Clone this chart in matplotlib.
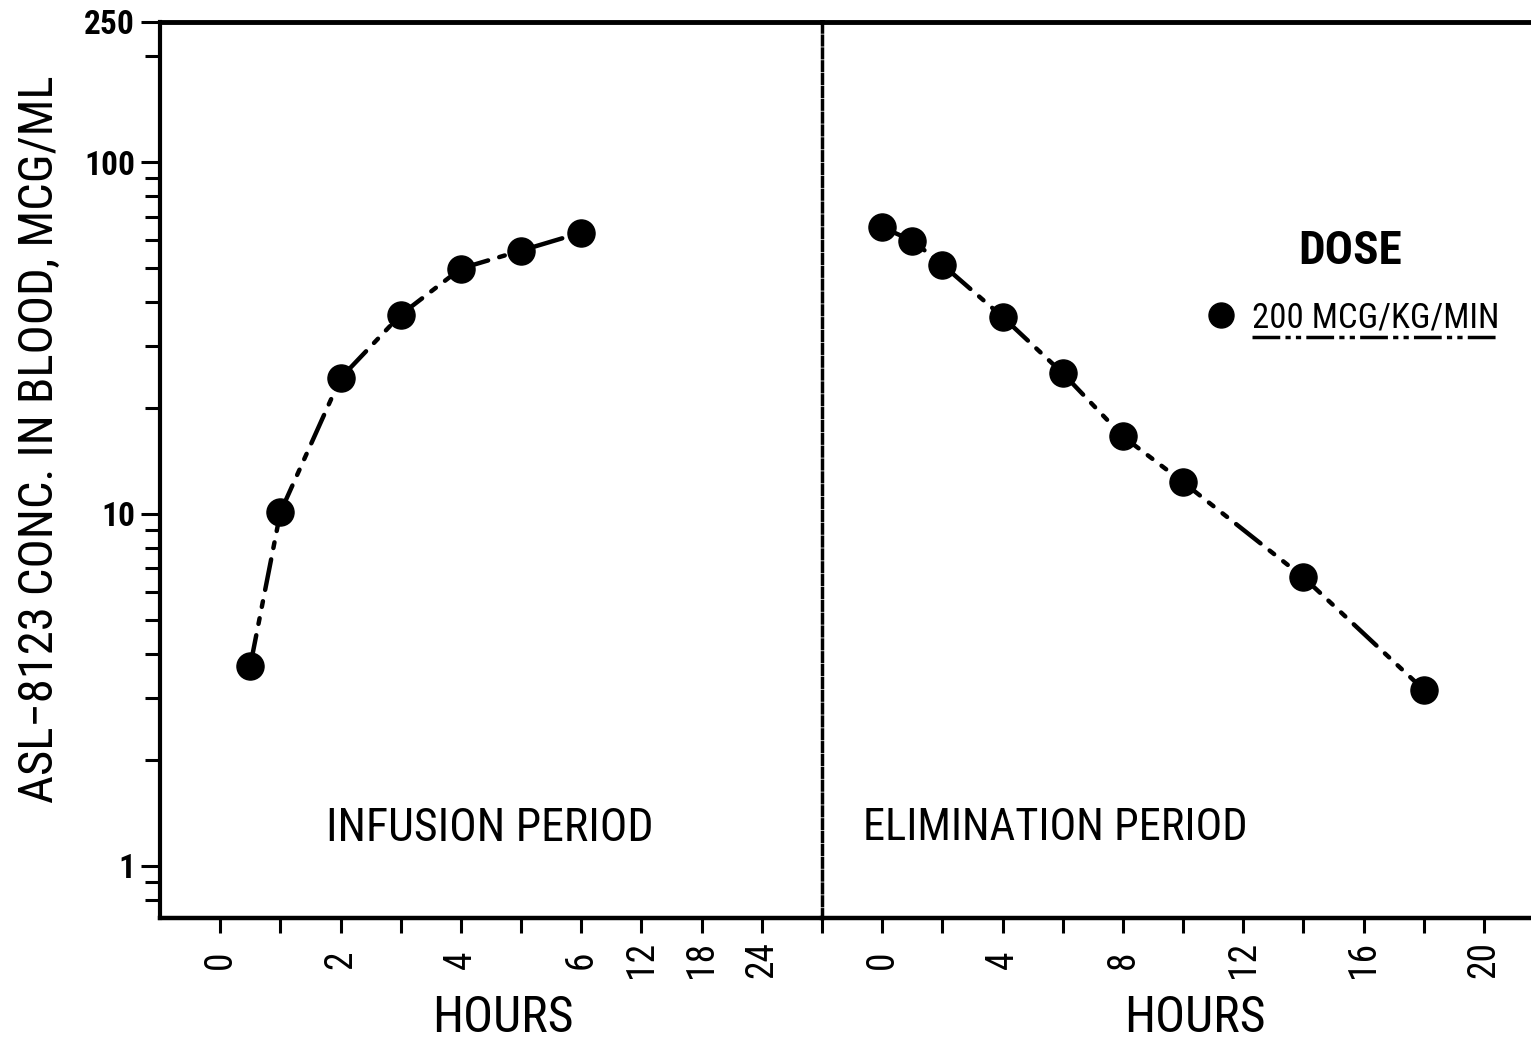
import numpy as np
import matplotlib
matplotlib.use('Agg')
import matplotlib.pyplot as plt
from matplotlib.ticker import FixedLocator, LogLocator, NullFormatter
from matplotlib.lines import Line2D
from matplotlib import font_manager

# pick a narrow sans if there is one
numele = set(f.name for f in font_manager.fontManager.ttflist)
familii = [f for f in ['Roboto Condensed', 'DejaVu Sans Condensed',
                       'Liberation Sans Narrow', 'Liberation Sans'] if f in numele]
plt.rcParams['font.family'] = familii + ['DejaVu Sans']

# infusion period (hours, mcg/ml)
ore_infuzie = [0.5, 1, 2, 3, 4, 5, 6]
conc_infuzie = [3.7, 10.1, 24.3, 36.8, 49.8, 56.0, 63.0]

# elimination period (hours after stop, mcg/ml)
ore_eliminare = [0, 1, 2, 4, 6, 8, 10, 14, 18]
conc_eliminare = [65.2, 59.8, 51.1, 36.3, 25.1, 16.6, 12.3, 6.6, 3.16]

# left x axis: 0..6 h every hour, then 12, 18, 24 compressed
ore_ticks_st = [0, 1, 2, 3, 4, 5, 6, 12, 18, 24]
etichete_st = ['0', '', '2', '', '4', '', '6', '12', '18', '24']
# right x axis
ore_ticks_dr = [-2, 0, 2, 4, 6, 8, 10, 12, 14, 16, 18, 20]
etichete_dr = ['', '0', '', '4', '', '8', '', '12', '', '16', '', '20']

y_ticks = [1, 10, 100, 250]
y_etichete = ['1', '10', '100', '250']

W, H = 1531, 1042
fig = plt.figure(figsize=(W / 100, H / 100), dpi=100)
ax1 = fig.add_axes([160 / W, 124 / H, 662 / W, 896 / H])
ax2 = fig.add_axes([822 / W, 124 / H, 709 / W, 896 / H], sharey=ax1)

pozitii_st = list(range(len(ore_ticks_st)))
x_inf = np.interp(ore_infuzie, ore_ticks_st, pozitii_st)

stil = (0, (7, 2.6, 1.3, 2.6, 1.3, 2.6))
ax1.plot(x_inf, conc_infuzie, color='black', lw=3.2, ls=stil,
         dash_capstyle='round', marker='o', ms=19.5, clip_on=False)
ax2.plot(ore_eliminare, conc_eliminare, color='black', lw=3.2, ls=stil,
         dash_capstyle='round', marker='o', ms=19.5, clip_on=False)

ax1.set_yscale('log')
ax1.set_ylim(0.71, 250)
ax1.set_xlim(-1, 10)
ax2.set_xlim(-2, 21.56)

ax1.yaxis.set_major_locator(FixedLocator(y_ticks))
ax1.set_yticklabels(y_etichete)
ax1.yaxis.set_minor_locator(LogLocator(base=10, subs=np.arange(2, 10)))
ax1.yaxis.set_minor_formatter(NullFormatter())
ax1.tick_params(axis='y', which='major', length=14, width=2.2, pad=4,
                labelsize=24)
ax1.tick_params(axis='y', which='minor', length=11, width=2.2)
for t in ax1.get_yticklabels():
    t.set_fontweight('bold')

ax1.set_xticks(pozitii_st)
ax1.set_xticklabels(etichete_st, rotation=90, va='center', ha='center')
ax1.tick_params(axis='x', length=11, width=2.2, pad=19, labelsize=27)

ax2.set_xticks(ore_ticks_dr)
ax2.set_xticklabels(etichete_dr, rotation=90, va='center', ha='center')
ax2.tick_params(axis='x', length=11, width=2.2, pad=19, labelsize=27)
ax2.tick_params(axis='y', which='both', left=False, labelleft=False)

for ax in (ax1, ax2):
    ax.spines['right'].set_visible(False)
    ax.spines['top'].set_linewidth(3.5)
    ax.spines['bottom'].set_linewidth(3.2)
ax1.spines['left'].set_linewidth(3)
ax2.spines['left'].set_linewidth(2.5)
ax2.spines['left'].set_linestyle((0, (2.5, 1.2)))

ax1.text(0.498, 0.10, 'INFUSION PERIOD', transform=ax1.transAxes,
         ha='center', va='center', fontsize=33)
ax2.text(0.329, 0.10, 'ELIMINATION PERIOD', transform=ax2.transAxes,
         ha='center', va='center', fontsize=32)

# legend with title
punct = Line2D([], [], color='black', marker='o', ls='none', ms=18)
leg = ax2.legend([punct], ['200 MCG/KG/MIN'], title='DOSE', loc='center',
                 bbox_to_anchor=(0.745, 0.71), frameon=False, fontsize=25,
                 handletextpad=0.3, handlelength=1.2,
                 title_fontproperties={'size': 34, 'weight': 'bold'})
leg._legend_box.sep = 20

fig.text(0.026, 0.578, 'ASL\u22128123 CONC. IN BLOOD, MCG/ML', rotation=90,
         ha='center', va='center', fontsize=35)
fig.text(503 / W, 0.5 / H, 'HOURS', ha='center', va='bottom', fontsize=36)
fig.text(1195 / W, 0.5 / H, 'HOURS', ha='center', va='bottom', fontsize=36)

# underline under legend text
fig.canvas.draw()
bb = leg.get_texts()[0].get_window_extent()
inv = fig.transFigure.inverted()
(x0, y0), (x1, _) = inv.transform([(bb.x0, bb.y0 - 3), (bb.x1, bb.y0 - 3)])
fig.add_artist(Line2D([x0, x1], [y0, y0], color='black', lw=2.5,
                      ls=(0, (8, 1.5, 1.5, 1.5, 1.5, 1.5))))

fig.savefig('out.png', dpi=100)
